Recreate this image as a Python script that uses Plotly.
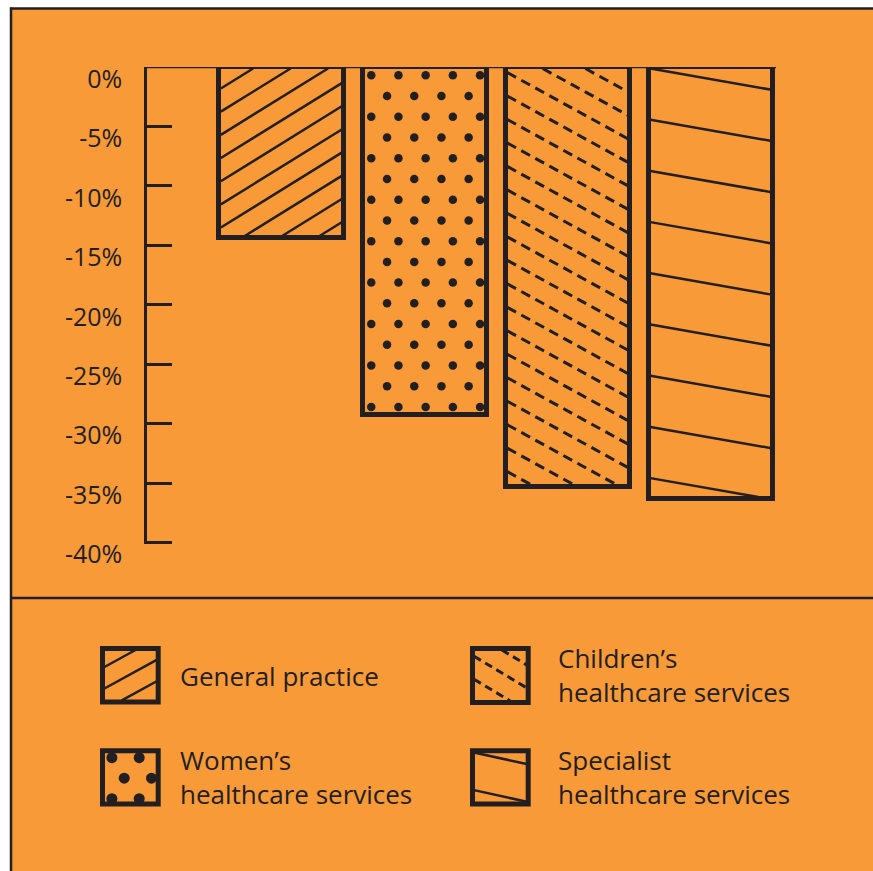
import plotly.graph_objects as go

# ---------------- data ----------------
categories = ["General practice", "Women’s healthcare services",
              "Children’s healthcare services", "Specialist healthcare services"]
values = [-14.4, -29.3, -35.3, -36.3]
tick_vals = [0, -5, -10, -15, -20, -25, -30, -35, -40]
tick_text = ["0%", "-5%", "-10%", "-15%", "-20%", "-25%", "-30%", "-35%", "-40%"]
legend_line1 = ["General practice", "Women’s", "Children’s", "Specialist"]
legend_line2 = ["", "healthcare services", "healthcare services", "healthcare services"]

# ---------------- style ----------------
W, H = 873, 871
ORANGE = "#F89A38"
DARK = "#231F20"
FONT = "Open Sans"

YR = [-40.12, 0]                        # tiny pad so the -40 tick is drawn
UNIT_Y = 11.9                           # px per percentage point
# plot area in page px
L, R, T = 147, 776, 66.5
B = T + (YR[1] - YR[0]) * UNIT_Y
UNIT_X = 143.2                          # px per category
CENTER0 = 281.5                         # px of first category centre
XR = [(L - CENTER0) / UNIT_X, (R - CENTER0) / UNIT_X]
BAR_W = 124.3 / UNIT_X
BORDER = 5

def x2px(x):
    return L + (x - XR[0]) * UNIT_X

def y2px(y):
    return T + (YR[1] - y) * UNIT_Y

def px2x(px):
    return XR[0] + (px - L) / UNIT_X

def px2y(py):
    return YR[1] - (py - T) / UNIT_Y

def px2paper_x(px):
    return (px - L) / (R - L)

def px2paper_y(py):
    return (B - py) / (B - T)

# pattern specs (style only)
patterns = [
    dict(kind="lines", slope=-0.62, spacing=23.2, offset=20, dash=None, width=2.5),
    dict(kind="dots", row_sp=20.75, row0=5.3, even0=5.7, odd0=21.5, col_sp=27.2, size=8.5),
    dict(kind="lines", slope=0.55, spacing=23.5, offset=4, dash="10px,6px", width=3),
    dict(kind="lines", slope=0.176, spacing=51.25, offset=0, dash=None, width=2.5),
]
legend_patterns = [
    dict(kind="lines", slope=-0.55, spacing=21.5, offset=17.3, dash=None, width=2.5),
    dict(kind="dots", row_sp=20.5, row0=4, even0=6.4, odd0=18.7, col_sp=27.3, size=11),
    dict(kind="lines", slope=0.6, spacing=23, offset=6.3, dash="8px,5px", width=3),
    dict(kind="lines", slope=0.22, spacing=37.7, offset=0.3, dash=None, width=2.5),
]


def hatch_segments(x0, x1, y0, y1, spec):
    """segments (px) of parallel lines clipped to rect; y down."""
    s = spec["slope"]
    sp = spec["spacing"]
    segs = []
    for k in range(-60, 60):
        yl = y0 + spec["offset"] + k * sp  # intercept at left edge
        xa = x0 + (y0 - yl) / s
        xb = x0 + (y1 - yl) / s
        lo = max(x0, min(xa, xb))
        hi = min(x1, max(xa, xb))
        if hi - lo > 0.5:
            segs.append(((lo, yl + s * (lo - x0)), (hi, yl + s * (hi - x0))))
    return segs


def dot_positions(x0, x1, y0, y1, spec, tol=1.0):
    pts = []
    r = 0
    while True:
        yy = y0 + spec["row0"] + r * spec["row_sp"]
        if yy > y1 + tol:
            break
        xs = x0 + (spec["even0"] if r % 2 == 0 else spec["odd0"])
        while xs <= x1 + tol:
            pts.append((xs, yy))
            xs += spec["col_sp"]
        r += 1
    return pts


fig = go.Figure()

# bars
xpos = list(range(len(categories)))
fig.add_trace(go.Bar(
    x=xpos, y=values, width=BAR_W,
    marker=dict(color=ORANGE, line=dict(color=DARK, width=BORDER)),
    cliponaxis=False, hoverinfo="skip", showlegend=False,
))

# bar patterns
inset = BORDER / 2 - 1
for i, v in enumerate(values):
    spec = patterns[i]
    bx0 = x2px(xpos[i] - BAR_W / 2) + inset
    bx1 = x2px(xpos[i] + BAR_W / 2) - inset
    by0 = y2px(0) + inset
    by1 = y2px(v) - inset
    if spec["kind"] == "lines":
        xs, ys = [], []
        for (ax, ay), (bx, by) in hatch_segments(bx0, bx1, by0, by1, spec):
            xs += [px2x(ax), px2x(bx), None]
            ys += [px2y(ay), px2y(by), None]
        fig.add_trace(go.Scatter(
            x=xs, y=ys, mode="lines", cliponaxis=False, hoverinfo="skip",
            line=dict(color=DARK, width=spec["width"], dash=spec["dash"] or "solid"),
            showlegend=False))
    else:
        pts = dot_positions(bx0 + 1.5, bx1, by0 + 1.5, by1, spec)
        fig.add_trace(go.Scatter(
            x=[px2x(p[0]) for p in pts], y=[px2y(p[1]) for p in pts],
            mode="markers", cliponaxis=False, hoverinfo="skip",
            marker=dict(color=DARK, size=spec["size"], line=dict(width=0)),
            showlegend=False))

shapes = []
# background panel and frame (page px)
shapes.append(dict(type="rect", xref="paper", yref="paper", layer="below",
                   x0=px2paper_x(11), x1=px2paper_x(W + 20),
                   y0=px2paper_y(8), y1=px2paper_y(H + 20),
                   fillcolor=ORANGE, line=dict(width=0)))
for (ax, ay, bx, by) in [(10, 8, W + 20, 8), (11, 7, 11, H + 20), (11, 598, W + 20, 598)]:
    shapes.append(dict(type="line", xref="paper", yref="paper",
                       x0=px2paper_x(ax), y0=px2paper_y(ay),
                       x1=px2paper_x(bx), y1=px2paper_y(by),
                       line=dict(color=DARK, width=2.5)))
# zero line across bars
shapes.append(dict(type="line", xref="paper", yref="y", x0=0, x1=1, y0=0, y1=0,
                   line=dict(color=DARK, width=2.5)))

# legend
swatches = [  # centre-line rects (page px)
    (102.5, 158.2, 648.5, 702.0),
    (102.5, 158.2, 750.8, 804.2),
    (472.5, 528.2, 648.5, 702.5),
    (472.5, 528.2, 750.8, 804.2),
]
text_x = [178, 178, 556, 556]
text_mid = [676, 777.5, 675, 777.5]
annotations = []
for i, (sx0, sx1, sy0, sy1) in enumerate(swatches):
    spec = legend_patterns[i]
    ix0, ix1, iy0, iy1 = sx0 + inset, sx1 - inset, sy0 + inset, sy1 - inset
    if spec["kind"] == "lines":
        for (ax, ay), (bx, by) in hatch_segments(ix0, ix1, iy0, iy1, spec):
            shapes.append(dict(type="line", xref="paper", yref="paper",
                               x0=px2paper_x(ax), y0=px2paper_y(ay),
                               x1=px2paper_x(bx), y1=px2paper_y(by),
                               line=dict(color=DARK, width=spec["width"],
                                         dash=spec["dash"] or "solid")))
    else:
        rr = spec["size"] / 2
        for (cx, cy) in dot_positions(ix0 + 1.5, ix1, iy0 + 1.5, iy1, spec):
            shapes.append(dict(type="circle", xref="paper", yref="paper",
                               x0=px2paper_x(cx - rr), x1=px2paper_x(cx + rr),
                               y0=px2paper_y(cy + rr), y1=px2paper_y(cy - rr),
                               fillcolor=DARK, line=dict(width=0)))
    shapes.append(dict(type="rect", xref="paper", yref="paper",
                       x0=px2paper_x(sx0), x1=px2paper_x(sx1),
                       y0=px2paper_y(sy1), y1=px2paper_y(sy0),
                       line=dict(color=DARK, width=BORDER)))
    txt = legend_line1[i] + ("<br>" + legend_line2[i] if legend_line2[i] else "")
    annotations.append(dict(text=txt, xref="paper", yref="paper",
                            x=px2paper_x(text_x[i]), y=px2paper_y(text_mid[i]),
                            xanchor="left", yanchor="middle", align="left",
                            showarrow=False,
                            font=dict(family=FONT, size=26, color=DARK)))

fig.update_layout(
    width=W, height=H,
    margin=dict(l=L, r=W - R, t=T, b=H - B, pad=0),
    paper_bgcolor="white", plot_bgcolor="rgba(0,0,0,0)",
    shapes=shapes, annotations=annotations,
    showlegend=False, bargap=0,
    xaxis=dict(range=XR, visible=False, fixedrange=True),
    yaxis=dict(range=YR, tickvals=tick_vals, ticktext=tick_text,
               showgrid=False, zeroline=False, showline=True,
               linecolor=DARK, linewidth=2.5,
               ticks="inside", ticklen=25, tickwidth=2.5, tickcolor=DARK,
               tickfont=dict(family=FONT, size=25, color=DARK),
               ticklabelshift=12, ticklabelstandoff=17,
               automargin=False, fixedrange=True),
)

fig.write_html("out.html",
               config={"displayModeBar": False},
               post_script="document.body.style.margin='0';"
                           "document.body.style.overflow='hidden';")
